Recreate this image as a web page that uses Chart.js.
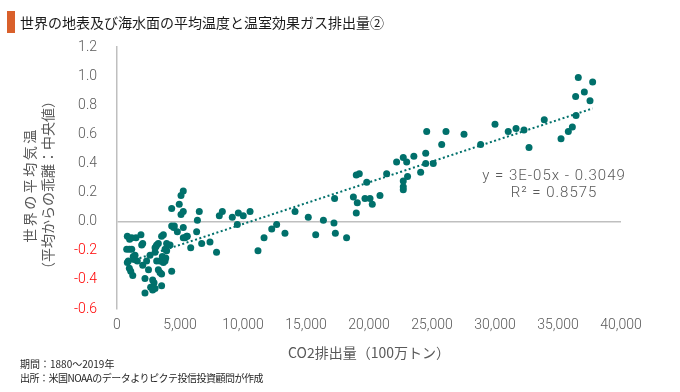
<!DOCTYPE html>
<html>
<head>
<meta charset="utf-8">
<script src="https://cdn.jsdelivr.net/npm/chart.js@4.4.1/dist/chart.umd.min.js"></script>
<style>
body { margin: 0; background: #fff; }
#wrap { position: relative; width: 680px; height: 392px; font-family: 'Noto Sans CJK JP', sans-serif; }
#bar { position: absolute; left: 7px; top: 11px; width: 8px; height: 22px; background: #D9602B; }
#title { position: absolute; left: 20px; top: 12px; font-size: 14px; line-height: 20px; color: #1a1a1a; }
.note { position: absolute; left: 20px; font-size: 10px; line-height: 12px; color: #262626; }
canvas { position: absolute; left: 0; top: 0; }
</style>
</head>
<body>
<div id="wrap">
  <canvas id="grafico" width="680" height="392"></canvas>
  <div id="bar"></div>
  <div id="title">世界の地表及び海水面の平均温度と温室効果ガス排出量②</div>
  <div class="note" style="top:358px">期間：1880～2019年</div>
  <div class="note" style="top:372px;letter-spacing:-0.5px">出所：米国NOAAのデータよりピクテ投信投資顧問が作成</div>
</div>
<script>
// CO2排出量（100万トン）
const co2 = [
  820, 1170, 1510, 1900, 770, 980, 1170, 1960, 2040, 1430,
  1290, 1350, 900, 820, 980, 1090, 1250, 1610, 2040, 2350,
  2620, 3020, 2220, 2830, 2940, 2670, 3020, 2220, 2830, 3540,
  3150, 3280, 3020, 3100, 3680, 3540, 3940, 4210, 3810, 3940,
  3150, 3410, 3540, 3280, 3410, 3540, 4340, 3680, 3810, 5260,
  5080, 4940, 4340, 5260, 5080, 4340, 4550, 4500, 5260, 4790,
  5530, 5260, 5850, 6530, 6380, 6320, 6720, 7380, 7900, 8120,
  8360, 9150, 9630, 10020, 10560, 9550, 11190, 11670, 12280, 12670,
  13330, 14130, 15180, 15770, 16380, 17220, 17330, 18220, 17270, 18760,
  19070, 18990, 18990, 19230, 19680, 20080, 20260, 19820, 20870, 21400,
  22190, 22720, 22990, 23560, 24500, 24500, 25100, 24100, 23060, 22720,
  22720, 22720, 24580, 26110, 25770, 27540, 28860, 30000, 31050, 31670,
  32300, 32700, 33910, 35240, 35820, 36140, 36430, 36400, 36610, 37090,
  37540, 37750, 5400, 5580, 3600, 3870, 1000, 2500
];
// 世界の平均気温（平均からの乖離）
const temp = [
  -0.10, -0.11, -0.11, -0.09, -0.19, -0.19, -0.19, -0.16, -0.15, -0.23,
  -0.24, -0.26, -0.27, -0.28, -0.32, -0.34, -0.37, -0.27, -0.30, -0.27,
  -0.23, -0.21, -0.39, -0.40, -0.42, -0.45, -0.46, -0.49, -0.47, -0.44,
  -0.16, -0.15, -0.18, -0.17, -0.09, -0.10, -0.15, -0.16, -0.19, -0.20,
  -0.27, -0.27, -0.27, -0.33, -0.35, -0.36, -0.34, -0.28, -0.27, 0.21,
  0.18, 0.12, 0.09, 0.07, 0.05, -0.03, -0.03, -0.04, -0.04, -0.07,
  -0.10, -0.11, -0.18, 0.07, 0.01, -0.07, -0.15, -0.14, -0.21, 0.04,
  0.07, 0.03, 0.06, 0.04, 0.07, -0.02, -0.20, -0.11, -0.05, -0.02,
  -0.08, 0.07, 0.03, -0.09, 0.01, -0.01, -0.08, -0.11, 0.16, 0.17,
  0.13, 0.06, 0.32, 0.33, 0.16, 0.16, 0.12, 0.27, 0.18, 0.33,
  0.41, 0.44, 0.41, 0.45, 0.47, 0.40, 0.40, 0.34, 0.31, 0.28,
  0.24, 0.22, 0.62, 0.62, 0.53, 0.60, 0.53, 0.67, 0.62, 0.64,
  0.63, 0.51, 0.70, 0.57, 0.62, 0.65, 0.73, 0.86, 0.99, 0.89,
  0.83, 0.96, -0.11, -0.10, -0.24, -0.25, -0.12, -0.33
];

const eqText = 'y = 3E-05x - 0.3049';
const r2Text = 'R² = 0.8575';
const tituloY = ['世界の平均気温', '（平均からの乖離：中央値）'];
const tituloX = 'CO2排出量（100万トン）';

const colorPunto = '#00706B';
const gris = '#595959';

// puntos y línea de tendencia (mínimos cuadrados)
const puntos = co2.map((x, i) => ({ x: x, y: temp[i] }));
const n = co2.length;
const mx = co2.reduce((a, b) => a + b, 0) / n;
const my = temp.reduce((a, b) => a + b, 0) / n;
let sxy = 0, sxx = 0;
co2.forEach((x, i) => { sxy += (x - mx) * (temp[i] - my); sxx += (x - mx) * (x - mx); });
const pendiente = sxy / sxx;
const ordenada = my - pendiente * mx;
const xMin = Math.min(...co2), xMax = Math.max(...co2);
const tendencia = [
  { x: xMin, y: pendiente * xMin + ordenada },
  { x: xMax, y: pendiente * xMax + ordenada }
];

const fuenteNum = { family: "Roboto, 'Noto Sans CJK JP', sans-serif", size: 14, weight: '300' };

const textos = {
  id: 'textos',
  afterDraw(chart) {
    const c = chart.ctx;
    const a = chart.chartArea;
    c.save();
    c.fillStyle = gris;
    c.textAlign = 'center';
    c.textBaseline = 'middle';
    c.font = "300 15px Roboto, 'Noto Sans CJK JP', sans-serif";
    c.letterSpacing = '1px';
    c.fillText(eqText, a.right - 67, 176);
    c.fillText(r2Text, a.right - 67, 193);
    c.font = "14px 'Noto Sans CJK JP', sans-serif";
    tituloY.forEach((t, i) => {
      c.save();
      c.letterSpacing = i === 0 ? '2.5px' : '0px';
      c.translate(30 + i * 18, 185);
      c.rotate(-Math.PI / 2);
      c.fillText(t, 0, 0);
      c.restore();
    });
    c.restore();
  }
};

new Chart(document.getElementById('grafico').getContext('2d'), {
  type: 'scatter',
  data: {
    datasets: [{
      label: '気温',
      data: puntos,
      backgroundColor: colorPunto,
      borderColor: colorPunto,
      pointRadius: 3.5,
      pointBorderWidth: 0
    }, {
      type: 'line',
      label: 'トレンド',
      data: tendencia,
      borderColor: colorPunto,
      borderWidth: 2,
      borderDash: [2, 2.5],
      pointRadius: 0,
      fill: false
    }]
  },
  options: {
    responsive: false,
    animation: false,
    layout: { padding: { left: 0, right: 59, top: 47, bottom: 0 } },
    plugins: { legend: { display: false }, tooltip: { enabled: false } },
    scales: {
      x: {
        type: 'linear',
        min: 0,
        max: 40000,
        ticks: {
          stepSize: 5000,
          color: gris,
          font: fuenteNum,
          padding: 8,
          callback: v => v.toLocaleString('en-US')
        },
        grid: { display: false, drawTicks: false },
        border: { display: false },
        title: {
          display: true,
          text: tituloX,
          color: gris,
          font: { family: "'Noto Sans CJK JP', sans-serif", size: 14 },
          padding: { top: 0, bottom: 31 }
        },
        afterFit: s => { s.height = 83; }
      },
      y: {
        min: -0.6,
        max: 1.2,
        ticks: {
          stepSize: 0.2,
          font: fuenteNum,
          padding: 20,
          color: c => c.tick.value < -1e-9 ? '#FF0000' : gris,
          callback: v => (Math.abs(v) < 1e-9 ? 0 : v).toFixed(1)
        },
        grid: {
          drawTicks: false,
          lineWidth: 1.5,
          color: c => Math.abs(c.tick.value) < 1e-9 ? '#BFBFBF' : 'rgba(0,0,0,0)'
        },
        border: { display: true, color: '#BFBFBF', width: 1.5 },
        afterFit: s => { s.width = 117; }
      }
    }
  },
  plugins: [textos]
});
</script>
</body>
</html>
